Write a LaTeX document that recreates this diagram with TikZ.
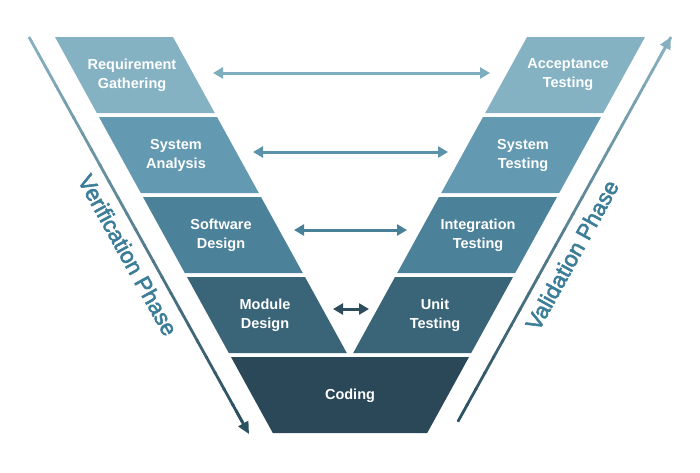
\documentclass[tikz,border=0pt]{standalone}
\usepackage{fontspec}
\setmainfont{Liberation Sans}
\newfontfamily\medfont[FakeBold=2.5]{Liberation Sans}
\usetikzlibrary{arrows.meta,calc}
\definecolor{rowA}{HTML}{85B2C3}
\definecolor{rowB}{HTML}{6399B1}
\definecolor{rowC}{HTML}{4B8199}
\definecolor{rowD}{HTML}{3A6578}
\definecolor{rowE}{HTML}{2B4859}
\definecolor{arrA}{HTML}{7DADBF}
\definecolor{arrB}{HTML}{5A93AB}
\definecolor{arrC}{HTML}{488098}
\definecolor{arrD}{HTML}{2E4D5C}
\definecolor{phlight}{HTML}{86B0BF}
\definecolor{phdark}{HTML}{2C5262}
\definecolor{phasetxt}{HTML}{3C7D98}
\begin{document}
\begin{tikzpicture}[x=1pt,y=-1pt,
  lbl/.style={text=white,font=\bfseries\fontsize{14.5}{19}\selectfont,align=center,inner sep=0pt},
  link/.style={line width=3pt,{Triangle[length=10pt,width=11pt]}-{Triangle[length=10pt,width=11pt]}},
  phase/.style={font=\medfont\fontsize{22.5}{26}\selectfont,text=phasetxt,inner sep=0pt},
  phline/.style={line width=2.8pt}]
\useasboundingbox (0,0) rectangle (700,472);
\fill[white] (0,0) rectangle (700,472);
% left side (verification)
\fill[rowA] (55,37) -- (173,37) -- (214.8,113) -- (96.8,113) -- cycle;
\fill[rowB] (99,117) -- (217,117) -- (258.8,193) -- (140.8,193) -- cycle;
\fill[rowC] (143,197) -- (261,197) -- (302.8,273) -- (184.8,273) -- cycle;
\fill[rowD] (187,277) -- (305,277) -- (346.8,353) -- (228.8,353) -- cycle;
% right side (validation)
\fill[rowA] (645,37) -- (527,37) -- (485.2,113) -- (603.2,113) -- cycle;
\fill[rowB] (601,117) -- (483,117) -- (441.2,193) -- (559.2,193) -- cycle;
\fill[rowC] (557,197) -- (439,197) -- (397.2,273) -- (515.2,273) -- cycle;
\fill[rowD] (513,277) -- (395,277) -- (353.2,353) -- (471.2,353) -- cycle;
% coding
\fill[rowE] (231,357) -- (469,357) -- (427.2,433) -- (272.8,433) -- cycle;
% labels
\node[lbl] (req) at (132,75) {Requirement\\Gathering};
\node[lbl] (sysa) at (176,155) {System\\Analysis};
\node[lbl] (swd) at (221,235) {Software\\Design};
\node[lbl] (mod) at (265,315) {Module\\Design};
\node[lbl] (acc) at (568,75) {Acceptance\\Testing};
\node[lbl] (syst) at (523,155) {System\\Testing};
\node[lbl] (integ) at (478,235) {Integration\\Testing};
\node[lbl] (unit) at (435,315) {Unit\\Testing};
\node[lbl] (cod) at (350,396) {Coding};
% links
\coordinate (l1) at (213,73); \coordinate (r1) at (490,73);
\coordinate (l2) at (253,152); \coordinate (r2) at (448,152);
\coordinate (l3) at (294,230); \coordinate (r3) at (407,230);
\coordinate (l4) at (333,309); \coordinate (r4) at (369,309);
\draw[link,arrA] (l1) -- (r1);
\draw[link,arrB] (l2) -- (r2);
\draw[link,arrC] (l3) -- (r3);
\draw[link,arrD] (l4) -- (r4);
% phase lines
\coordinate (vtop) at (29,37); \coordinate (vbot) at (249,434);
\coordinate (wbot) at (451,434); \coordinate (wtop) at (671,37);
\foreach \i in {0,...,23}{
  \pgfmathsetmacro\pa{0.965*\i/24}
  \pgfmathsetmacro\pb{0.965*(\i+1.1)/24}
  \pgfmathtruncatemacro\pc{100*\i/23}
  \draw[phline,color=phdark!\pc!phlight] ($(vtop)!\pa!(vbot)$) -- ($(vtop)!\pb!(vbot)$);
  \draw[phline,color=phdark!\pc!phlight] ($(wtop)!\pa!(wbot)$) -- ($(wtop)!\pb!(wbot)$);
}
\draw[phline,phdark,-{Triangle[length=12pt,width=11pt]}] ($(vtop)!0.94!(vbot)$) -- (vbot);
\draw[phline,phlight,-{Triangle[length=12pt,width=11pt]}] ($(wtop)!0.06!(wbot)$) -- (wtop);
% phase labels
\node[phase,rotate=-61] (ver) at (128,255) {Verification Phase};
\node[phase,rotate=61] (val) at (572,255) {Validation Phase};
\end{tikzpicture}
\end{document}
